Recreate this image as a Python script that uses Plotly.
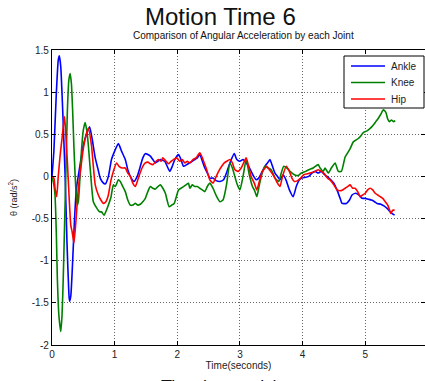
import plotly.graph_objects as go

# ---- data ----
ANKLE_T = [0, 0.03, 0.07, 0.1, 0.117, 0.14, 0.17, 0.21, 0.24, 0.27, 0.28, 0.3, 0.33, 0.36, 0.39, 0.44, 0.5, 0.55, 0.6, 0.64,
           0.69, 0.73, 0.77, 0.81, 0.85, 0.9, 0.95, 1.0, 1.06, 1.11, 1.17, 1.21, 1.25, 1.31, 1.36, 1.41, 1.45, 1.49, 1.53, 1.57,
           1.61, 1.65, 1.69, 1.73, 1.8, 1.88, 1.92, 1.96, 2.02, 2.06, 2.1, 2.15, 2.2, 2.28, 2.32, 2.36, 2.4, 2.44, 2.48, 2.52,
           2.57, 2.62, 2.68, 2.74, 2.79, 2.84, 2.91, 2.95, 3.0, 3.05, 3.1, 3.14, 3.18, 3.22, 3.26, 3.3, 3.35, 3.4, 3.44, 3.48,
           3.52, 3.56, 3.6, 3.64, 3.69, 3.74, 3.79, 3.85, 3.9, 3.95, 3.99, 4.05, 4.1, 4.15, 4.2, 4.25, 4.3, 4.35, 4.39, 4.45,
           4.5, 4.55, 4.6, 4.63, 4.7, 4.75, 4.79, 4.85, 4.9, 4.95, 5.0, 5.05, 5.1, 5.15, 5.19, 5.25, 5.3, 5.35, 5.4, 5.43, 5.47]
ANKLE_V = [0, 0.3, 1.0, 1.38, 1.43, 1.3, 0.8, 0.0, -0.8, -1.4, -1.48, -1.42, -1.0, -0.5, -0.14, 0.1, 0.37, 0.5, 0.59, 0.45,
           0.22, 0.1, -0.02, -0.07, -0.09, 0.0, 0.2, 0.3, 0.39, 0.3, 0.2, 0.08, 0.0, -0.06, 0.0, 0.12, 0.22, 0.27, 0.26, 0.24,
           0.2, 0.16, 0.18, 0.2, 0.18, 0.06, 0.12, 0.2, 0.26, 0.2, 0.12, 0.14, 0.16, 0.2, 0.22, 0.26, 0.18, 0.1, 0.04, -0.02,
           -0.02, -0.05, -0.06, -0.04, 0.05, 0.16, 0.27, 0.2, 0.18, 0.2, 0.16, 0.12, 0.06, 0.0, -0.04, -0.02, 0.05, 0.12, 0.16, 0.2,
           0.12, 0.04, 0.0, -0.04, 0.02, -0.05, -0.16, -0.24, -0.12, -0.04, -0.02, -0.01, 0.0, 0.04, 0.06, 0.04, 0.06, 0.02, 0.0, -0.04,
           -0.08, -0.16, -0.26, -0.32, -0.32, -0.28, -0.22, -0.2, -0.22, -0.26, -0.26, -0.27, -0.28, -0.3, -0.32, -0.33, -0.35, -0.38, -0.42, -0.44, -0.46]

KNEE_T = [0, 0.03, 0.048, 0.07, 0.085, 0.11, 0.14, 0.16, 0.18, 0.2, 0.22, 0.245, 0.27, 0.29, 0.31, 0.33, 0.35, 0.37, 0.4, 0.42,
          0.44, 0.47, 0.5, 0.53, 0.56, 0.58, 0.62, 0.66, 0.71, 0.76, 0.79, 0.83, 0.87, 0.9, 0.94, 0.98, 1.01, 1.06, 1.09, 1.13,
          1.17, 1.21, 1.25, 1.29, 1.33, 1.37, 1.41, 1.45, 1.49, 1.53, 1.57, 1.61, 1.65, 1.69, 1.73, 1.77, 1.81, 1.87, 1.91, 1.95,
          2.02, 2.06, 2.1, 2.14, 2.18, 2.2, 2.24, 2.28, 2.32, 2.36, 2.4, 2.44, 2.48, 2.52, 2.57, 2.63, 2.68, 2.73, 2.76, 2.79,
          2.84, 2.88, 2.95, 3.0, 3.05, 3.1, 3.15, 3.2, 3.23, 3.27, 3.3, 3.34, 3.4, 3.45, 3.5, 3.56, 3.62, 3.66, 3.7, 3.75,
          3.8, 3.87, 3.93, 3.98, 4.05, 4.1, 4.17, 4.25, 4.28, 4.33, 4.36, 4.41, 4.46, 4.52, 4.57, 4.62, 4.68, 4.72, 4.76, 4.81,
          4.85, 4.89, 4.93, 4.97, 5.03, 5.08, 5.13, 5.17, 5.21, 5.25, 5.29, 5.33, 5.36, 5.39, 5.42, 5.45, 5.48]
KNEE_V = [0, -0.1, -0.22, -0.7, -1.2, -1.65, -1.84, -1.65, -1.2, -0.6, 0.0, 0.77, 1.15, 1.22, 1.1, 0.77, 0.35, 0.0, -0.34, -0.3,
          -0.1, 0.3, 0.55, 0.64, 0.52, 0.37, 0.0, -0.3, -0.37, -0.42, -0.42, -0.46, -0.4, -0.34, -0.25, -0.1, -0.12, -0.04, -0.06, -0.12,
          -0.18, -0.28, -0.34, -0.34, -0.32, -0.34, -0.33, -0.3, -0.26, -0.18, -0.12, -0.14, -0.15, -0.12, -0.1, -0.14, -0.2, -0.36, -0.34, -0.32,
          -0.16, -0.14, -0.12, -0.1, -0.08, -0.14, -0.1, -0.12, -0.12, -0.14, -0.16, -0.18, -0.12, -0.08, -0.14, -0.24, -0.3, -0.28, -0.2, -0.08,
          0.16, 0.1, -0.08, -0.16, 0.0, 0.2, 0.02, -0.12, -0.16, -0.24, -0.14, 0.0, 0.12, 0.1, 0.08, -0.02, -0.06, 0.04, 0.12, 0.1,
          0.06, 0.02, 0.01, 0.04, 0.06, 0.08, 0.1, 0.14, 0.1, 0.06, 0.1, 0.04, 0.1, 0.16, 0.06, 0.06, 0.23, 0.28, 0.33, 0.41,
          0.43, 0.45, 0.48, 0.52, 0.54, 0.57, 0.61, 0.65, 0.69, 0.74, 0.79, 0.76, 0.68, 0.65, 0.67, 0.65, 0.66]

HIP_T = [0, 0.03, 0.05, 0.075, 0.1, 0.13, 0.16, 0.2, 0.22, 0.245, 0.27, 0.3, 0.32, 0.35, 0.38, 0.42, 0.46, 0.5, 0.54, 0.58,
         0.63, 0.66, 0.69, 0.74, 0.78, 0.82, 0.86, 0.9, 0.94, 0.98, 1.03, 1.07, 1.12, 1.17, 1.21, 1.25, 1.29, 1.33, 1.37, 1.41,
         1.45, 1.49, 1.53, 1.57, 1.61, 1.66, 1.7, 1.74, 1.77, 1.82, 1.86, 1.9, 1.94, 1.99, 2.04, 2.08, 2.12, 2.16, 2.2, 2.25,
         2.3, 2.36, 2.4, 2.44, 2.47, 2.52, 2.57, 2.61, 2.66, 2.71, 2.75, 2.79, 2.84, 2.88, 2.92, 2.97, 3.02, 3.06, 3.1, 3.14,
         3.18, 3.23, 3.27, 3.31, 3.36, 3.43, 3.47, 3.51, 3.56, 3.6, 3.64, 3.68, 3.74, 3.79, 3.83, 3.87, 3.92, 3.97, 4.02, 4.07,
         4.12, 4.2, 4.25, 4.3, 4.35, 4.4, 4.45, 4.5, 4.55, 4.6, 4.64, 4.68, 4.72, 4.76, 4.8, 4.84, 4.88, 4.92, 4.96, 5.0,
         5.04, 5.08, 5.12, 5.16, 5.2, 5.24, 5.28, 5.32, 5.36, 5.39, 5.41, 5.44, 5.47]
HIP_V = [0, -0.02, -0.15, -0.24, 0.0, 0.25, 0.45, 0.71, 0.5, 0.18, -0.2, -0.58, -0.65, -0.79, -0.55, -0.14, 0.1, 0.33, 0.48, 0.57,
         0.37, 0.12, -0.1, -0.22, -0.28, -0.32, -0.3, -0.22, -0.05, 0.06, 0.16, 0.12, 0.1, 0.1, 0.04, 0.0, -0.08, -0.12, -0.04, 0.05,
         0.12, 0.16, 0.17, 0.15, 0.14, 0.18, 0.2, 0.18, 0.22, 0.18, 0.15, 0.18, 0.2, 0.22, 0.18, 0.2, 0.16, 0.18, 0.16, 0.2,
         0.22, 0.28, 0.22, 0.14, 0.08, -0.04, -0.08, -0.02, 0.06, 0.12, 0.16, 0.18, 0.2, 0.16, 0.08, 0.06, 0.1, 0.16, 0.22, 0.12,
         0.0, -0.08, -0.16, -0.06, 0.06, 0.12, 0.08, 0.04, -0.02, -0.08, -0.12, 0.0, 0.12, 0.06, -0.02, -0.06, -0.05, -0.02, 0.02, 0.03,
         0.04, 0.06, 0.08, 0.06, 0.03, -0.02, -0.05, -0.1, -0.16, -0.17, -0.16, -0.14, -0.12, -0.1, -0.14, -0.14, -0.18, -0.24, -0.22, -0.2,
         -0.16, -0.14, -0.16, -0.2, -0.22, -0.24, -0.26, -0.3, -0.34, -0.4, -0.44, -0.4, -0.4]

assert len(ANKLE_T) == len(ANKLE_V), (len(ANKLE_T), len(ANKLE_V))
assert len(KNEE_T) == len(KNEE_V), (len(KNEE_T), len(KNEE_V))
assert len(HIP_T) == len(HIP_V), (len(HIP_T), len(HIP_V))

SERIES = ["Ankle", "Knee", "Hip"]
COLORS = ["#0000FF", "#008000", "#FF0000"]
X_TICKS = [0, 1, 2, 3, 4, 5]
Y_TICKS = [-2, -1.5, -1, -0.5, 0, 0.5, 1, 1.5]
Y_LABELS = ["-2", "-1.5", "-1", "-0.5", "0", "0.5", "1", "1.5"]

FONT = "Liberation Sans, Arial, sans-serif"

# plot-area geometry in pixels
W, H = 425, 381
ML, MR, MT, MB = 52, 0, 50, 36
PW = W - ML - MR
PH = H - MT - MB


def px_x(px):
    return (px - ML) / PW


def px_y(py):
    return (H - MB - py) / PH


fig = go.Figure()
for name, tt, vv, c in zip(SERIES, [ANKLE_T, KNEE_T, HIP_T], [ANKLE_V, KNEE_V, HIP_V], COLORS):
    fig.add_trace(go.Scatter(x=tt, y=vv, mode="lines", name=name, showlegend=False,
                             line=dict(color=c, width=1.6, shape="spline", smoothing=0.5)))

axis_common = dict(showline=True, linecolor="black", linewidth=1.2, mirror="ticks",
                   ticks="inside", ticklen=4, tickcolor="black",
                   showgrid=True, gridcolor="#666666", griddash="1px,2px", gridwidth=1,
                   zeroline=False, tickfont=dict(family=FONT, size=10, color="#222"))

# MATLAB-style legend box (compact, drawn in paper coordinates)
LEG_L, LEG_R, LEG_T, LEG_B = 344, 424, 56, 108
shapes = [dict(type="rect", xref="paper", yref="paper",
               x0=px_x(LEG_L), x1=px_x(LEG_R), y0=px_y(LEG_B), y1=px_y(LEG_T),
               line=dict(color="black", width=1), fillcolor="white", layer="above")]
annotations = []
for i, (name, c) in enumerate(zip(SERIES, COLORS)):
    yy = 66 + i * 16.5
    shapes.append(dict(type="line", xref="paper", yref="paper",
                       x0=px_x(351), x1=px_x(385), y0=px_y(yy), y1=px_y(yy),
                       line=dict(color=c, width=1.6), layer="above"))
    annotations.append(dict(text=name, x=px_x(389), y=px_y(yy), xref="paper", yref="paper",
                            showarrow=False, xanchor="left", yanchor="middle",
                            font=dict(family=FONT, size=10, color="#222")))

annotations += [
    dict(text="Motion Time 6", x=px_x(220), y=px_y(16), xref="paper", yref="paper", showarrow=False,
         font=dict(family=FONT, size=24, color="#111"), xanchor="center", yanchor="middle"),
    dict(text="Comparison of Angular Acceleration by each Joint", x=px_x(243), y=px_y(35.5),
         xref="paper", yref="paper", showarrow=False,
         font=dict(family=FONT, size=10, color="#111"), xanchor="center", yanchor="middle"),
    # partially visible label at the very bottom edge (clipped in the reference)
    dict(text="Time(seconds)", x=px_x(220), y=px_y(375), xref="paper", yref="paper", showarrow=False,
         font=dict(family=FONT, size=18, color="#111"), xanchor="center", yanchor="top"),
]

fig.update_layout(
    width=W, height=H,
    margin=dict(l=ML, r=MR, t=MT, b=MB),
    paper_bgcolor="white", plot_bgcolor="white",
    showlegend=False,
    xaxis=dict(range=[0, 5.955], tickvals=X_TICKS, ticktext=[str(v) for v in X_TICKS],
               title=dict(text="Time(seconds)", font=dict(family=FONT, size=10, color="#222"), standoff=2),
               **axis_common),
    yaxis=dict(range=[-2, 1.5], tickvals=Y_TICKS, ticktext=Y_LABELS,
               title=dict(text="θ (rad/s<sup>2</sup>)", font=dict(family=FONT, size=9, color="#222"), standoff=12),
               **axis_common),
    shapes=shapes,
    annotations=annotations,
)

fig.write_html("out.html")
